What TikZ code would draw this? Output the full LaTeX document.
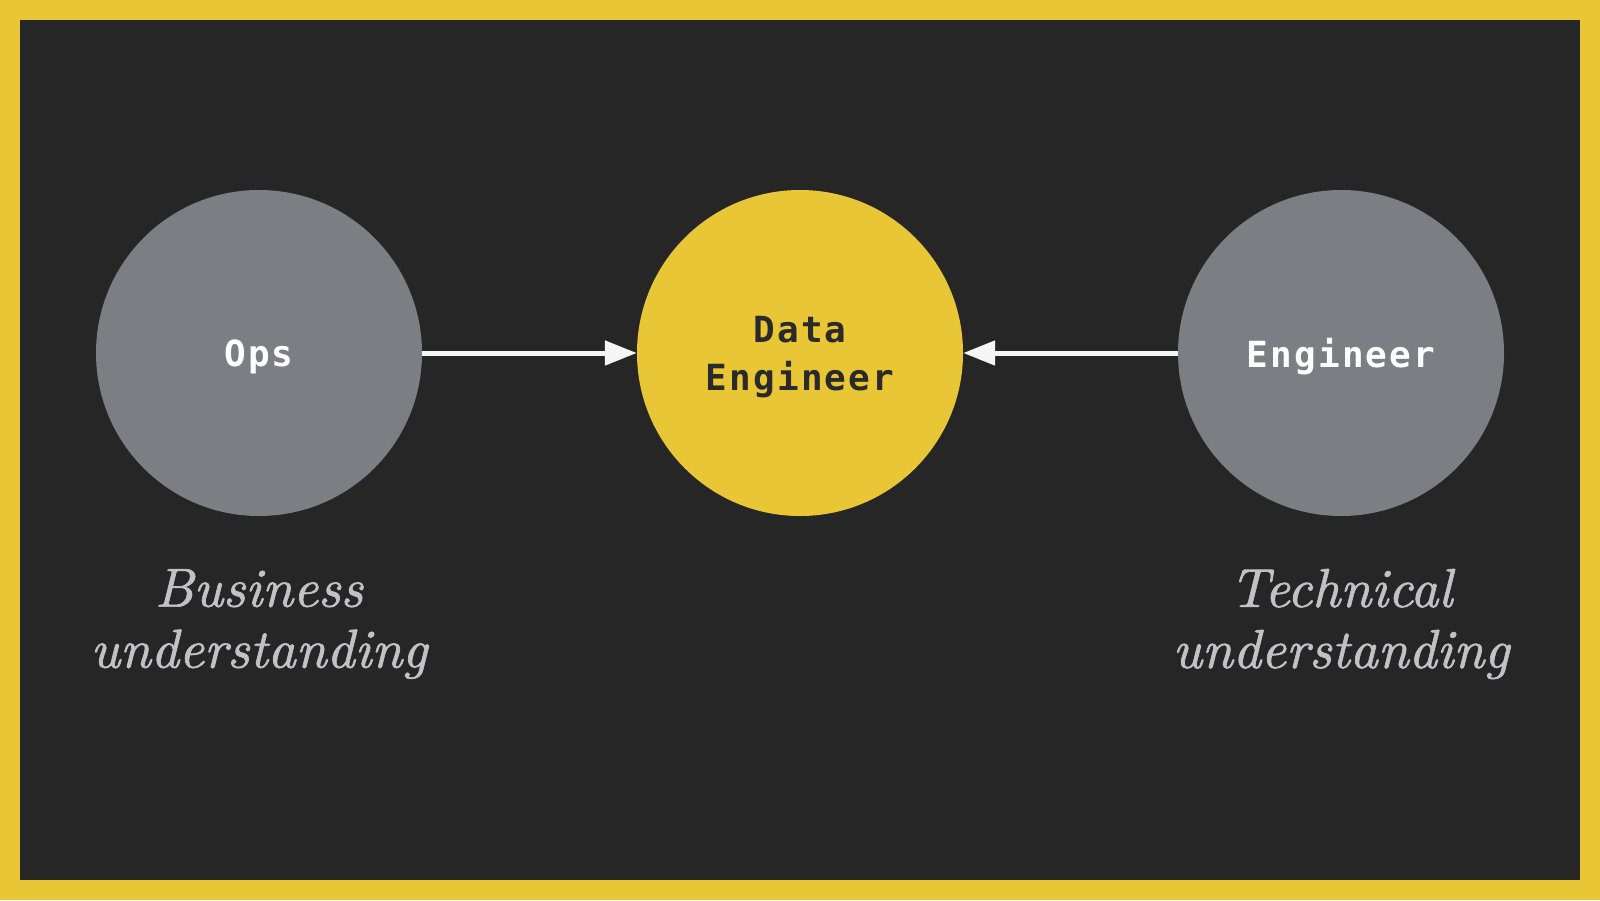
\documentclass[tikz,border=0pt]{standalone}
\usepackage{fontspec}
\usetikzlibrary{arrows.meta}
\newfontfamily\monob[LetterSpace=6]{DejaVu Sans Mono Bold}
\newfontfamily\lblfont[FakeBold=1.2]{lmroman10-italic.otf}
\definecolor{frameyellow}{HTML}{E9C636}
\definecolor{bgdark}{HTML}{262626}
\definecolor{circgray}{HTML}{7B7E83}
\definecolor{lblgray}{HTML}{C2C2C4}
\definecolor{arrowwhite}{HTML}{F5F5F5}
\definecolor{darktext}{HTML}{2A2A2A}
\tikzset{
  circ/.style={circle, inner sep=0pt, minimum size=326pt},
  ctext/.style={align=center, yshift=-4pt, font=\monob\fontsize{36}{48}\selectfont},
  graycirc/.style={circ, fill=circgray},
  yellowcirc/.style={circ, fill=frameyellow},
  lbl/.style={align=center, text=lblgray, inner sep=0pt,
    font=\lblfont\fontsize{54.8}{61}\selectfont},
  arr/.style={draw=arrowwhite, line width=5pt, -{Triangle[length=32pt,width=24pt]}}
}
\begin{document}
\begin{tikzpicture}[x=1pt,y=-1pt]
\useasboundingbox (0,0) rectangle (1600,900);
\fill[frameyellow] (0,0) rectangle (1600,900);
\fill[bgdark] (20,20) rectangle (1580,880);
\node[graycirc, label={[ctext, text=white]center:Ops}] (ops) at (259,353) {};
\node[yellowcirc, label={[ctext, text=darktext]center:Data\\Engineer}] (de) at (800,353) {};
\node[graycirc, label={[ctext, text=white]center:Engineer}] (eng) at (1341,353) {};
\draw[arr] (ops) -- (de);
\draw[arr] (eng) -- (de);
\node[lbl] (bus) at (259,624) {Business\\understanding};
\node[lbl] (tech) at (1341,624) {Technical\\understanding};
\end{tikzpicture}
\end{document}
